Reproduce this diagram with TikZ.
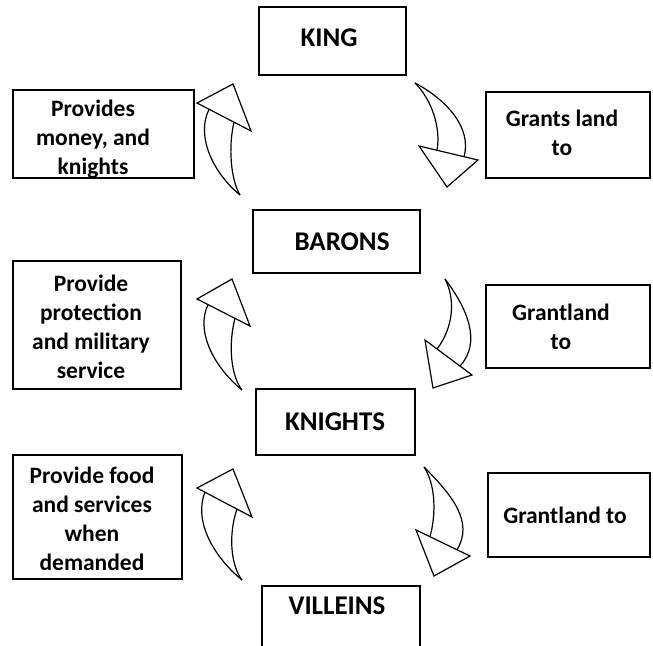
\documentclass[tikz,border=0pt]{standalone}
\usepackage{fontspec}
\setmainfont{Carlito}
\begin{document}
\begin{tikzpicture}[x=1pt,y=-1pt,
  frame/.style={draw=black, line width=1.4pt, inner sep=0pt},
  mainlbl/.style={inner sep=0pt, align=center, font=\bfseries\fontsize{27}{32}\selectfont},
  sidelbl/.style={inner sep=0pt, align=center, font=\bfseries\fontsize{23.5}{29}\selectfont},
  arr/.style={draw=black, line width=1.2pt, line join=miter}]
\useasboundingbox (0,0) rectangle (653,645);
% frames
\node[frame, minimum width=147pt, minimum height=68pt] (kingbox) at (332.5,41) {};
\node[frame, minimum width=181pt, minimum height=88pt] (provmoneybox) at (103.5,134) {};
\node[frame, minimum width=164pt, minimum height=86pt] (grant1box) at (568,135) {};
\node[frame, minimum width=167pt, minimum height=63pt] (baronsbox) at (336.5,241.5) {};
\node[frame, minimum width=168pt, minimum height=128pt] (provprotbox) at (97,325) {};
\node[frame, minimum width=164pt, minimum height=83pt] (grant2box) at (568,326.5) {};
\node[frame, minimum width=159pt, minimum height=66pt] (knightsbox) at (335.5,422) {};
\node[frame, minimum width=169pt, minimum height=124pt] (provfoodbox) at (97.5,517) {};
\node[frame, minimum width=162pt, minimum height=84pt] (grant3box) at (569,515) {};
\draw[line width=1.4pt] (262,646) -- (262,586) -- (420,586) -- (420,646);
% texts
\node[mainlbl] (king) at (329,38) {KING};
\node[sidelbl] (provmoney) at (93,139) {Provides\\money, and\\knights};
\node[sidelbl] (grant1) at (562,133) {Grants land\\to};
\node[mainlbl] (barons) at (342,242) {BARONS};
\node[sidelbl] (provprot) at (91,327) {Provide\\protection\\and military\\service};
\node[sidelbl] (grant2) at (561,327) {Grantland\\to};
\node[mainlbl] (knights) at (335,422) {KNIGHTS};
\node[sidelbl] (provfood) at (92,519) {Provide food\\and services\\when\\demanded};
\node[sidelbl] (grant3) at (565,515) {Grantland to};
\node[mainlbl] (villeins) at (337,606) {VILLEINS};
% left curved block arrows (upward)
\draw[arr] (197,103) -- (233,84) -- (251,131) -- cycle;
\draw[arr] (209,109.5) .. controls (196,135) and (212,172) .. (240,195);
\draw[arr] (234,122) .. controls (228,148) and (231,180) .. (240,195);
\draw[arr] (197,299) -- (232,279) -- (250,326) -- cycle;
\draw[arr] (208,304.6) .. controls (195,332) and (215,368) .. (242,390);
\draw[arr] (235,318.4) .. controls (228,345) and (231,376) .. (242,390);
\draw[arr] (197,488) -- (233,469) -- (252,517) -- cycle;
\draw[arr] (205,492) .. controls (193,522) and (215,558) .. (242,580);
\draw[arr] (237,509) .. controls (228,535) and (231,566) .. (242,580);
% right curved block arrows (downward)
\draw[arr] (419,146) -- (478,160) -- (447,187) -- cycle;
\draw[arr] (415,83) .. controls (432,100) and (441,128) .. (437,150.3);
\draw[arr] (415,83) .. controls (447,100) and (472,128) .. (464,156.7);
\draw[arr] (425,340) -- (472,375) -- (433,388) -- cycle;
\draw[arr] (445,279) .. controls (456,300) and (453,328) .. (437,349);
\draw[arr] (445,279) .. controls (467,308) and (482,342) .. (460,366);
\draw[arr] (416,530) -- (470,556) -- (434,576) -- cycle;
\draw[arr] (424,467) .. controls (436,485) and (436,515) .. (430,536.7);
\draw[arr] (424,467) .. controls (452,495) and (474,522) .. (457,549.7);
\end{tikzpicture}
\end{document}
